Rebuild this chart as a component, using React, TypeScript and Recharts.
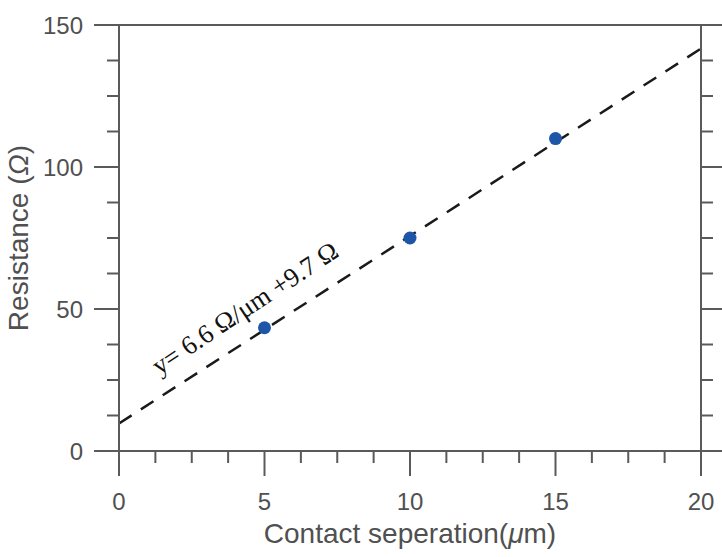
import React from "react";
import {
  ComposedChart,
  Line,
  Scatter,
  XAxis,
  YAxis,
  ReferenceDot,
} from "recharts";

// measured points
const separation = [5, 10, 15];
const resistance = [43.4, 75, 110];

// linear fit y = 6.6x + 9.7, drawn between the axis ends
const fitX = [0, 20];
const fitY = [9.7, 141.7];

const xMajor = [0, 5, 10, 15, 20];
const yMajor = [0, 50, 100, 150];
const xTicks = [0, 1.25, 2.5, 3.75, 5, 6.25, 7.5, 8.75, 10, 11.25, 12.5, 13.75, 15, 16.25, 17.5, 18.75, 20];
const yTicks = [0, 12.5, 25, 37.5, 50, 62.5, 75, 87.5, 100, 112.5, 125, 137.5, 150];

const fitLabel = "y= 6.6 Ω/μm +9.7 Ω";
const fitLabelAt = { x: 1.38, y: 26.6 };

const points = separation.map((x, i) => ({ x, y: resistance[i] }));
const fitData = fitX.map((x, i) => ({ x, y: fitY[i] }));

const AXIS = "#5a5a5a";
const TEXT = "#505050";
const FONT = "'Liberation Sans', Arial, sans-serif";
const MAJOR = 25;
const MINOR = 12;

function BottomTick({ x, y, payload }: any) {
  const major = xMajor.includes(payload.value);
  return (
    <g>
      <line x1={x} x2={x} y1={y} y2={y + (major ? MAJOR : MINOR)} stroke={AXIS} strokeWidth={2} />
      {major && (
        <text x={x} y={y + 59} textAnchor="middle" fontSize={24} fill={TEXT} fontFamily={FONT}>
          {payload.value}
        </text>
      )}
    </g>
  );
}

function TopTick({ x, y, payload }: any) {
  const major = xMajor.includes(payload.value);
  return <line x1={x} x2={x} y1={y} y2={y - (major ? MAJOR : MINOR)} stroke={AXIS} strokeWidth={2} />;
}

function LeftTick({ x, y, payload }: any) {
  const major = yMajor.includes(payload.value);
  return (
    <g>
      <line x1={x} x2={x - (major ? MAJOR : MINOR)} y1={y} y2={y} stroke={AXIS} strokeWidth={2} />
      {major && (
        <text x={x - 36} y={y} dy="0.36em" textAnchor="end" fontSize={24} fill={TEXT} fontFamily={FONT}>
          {payload.value}
        </text>
      )}
    </g>
  );
}

function RightTick({ x, y, payload }: any) {
  const major = yMajor.includes(payload.value);
  return <line x1={x} x2={x + (major ? MAJOR : MINOR)} y1={y} y2={y} stroke={AXIS} strokeWidth={2} />;
}

function XTitle({ viewBox }: any) {
  const cx = viewBox.x + viewBox.width / 2;
  return (
    <text x={cx} y={543} textAnchor="middle" fontSize={28} fill={TEXT} fontFamily={FONT}>
      Contact seperation(<tspan fontStyle="italic">μ</tspan>m)
    </text>
  );
}

function YTitle({ viewBox }: any) {
  const cy = viewBox.y + viewBox.height / 2;
  return (
    <text
      x={28}
      y={cy}
      transform={`rotate(-90, 28, ${cy})`}
      textAnchor="middle"
      fontSize={28}
      fill={TEXT}
      fontFamily={FONT}
    >
      Resistance (<tspan fontStyle="italic">Ω</tspan>)
    </text>
  );
}

function FitText({ viewBox }: any) {
  const x = viewBox.x + viewBox.width / 2;
  const y = viewBox.y + viewBox.height / 2;
  return (
    <text
      x={x}
      y={y}
      transform={`rotate(-33.5, ${x}, ${y})`}
      fontSize={26.5}
      fill="#111"
      fontFamily="'Liberation Serif', 'Times New Roman', serif"
    >
      {fitLabel}
    </text>
  );
}

export default function App() {
  return (
    <div style={{ position: "absolute", left: 0, top: 0, width: 722, height: 557, background: "#fff" }}>
      <ComposedChart width={722} height={557} margin={{ top: 0, right: 0, bottom: 0, left: 0 }}>
        <XAxis
          dataKey="x"
          type="number"
          domain={[0, 20]}
          ticks={xTicks}
          interval={0}
          height={106}
          tickSize={0}
          tickMargin={0}
          tickLine={false}
          axisLine={{ stroke: AXIS, strokeWidth: 2 }}
          tick={<BottomTick />}
          label={<XTitle />}
          allowDataOverflow
        />
        <XAxis
          xAxisId="top"
          orientation="top"
          type="number"
          domain={[0, 20]}
          ticks={xTicks}
          interval={0}
          height={25}
          tickSize={0}
          tickMargin={0}
          tickLine={false}
          axisLine={{ stroke: AXIS, strokeWidth: 2 }}
          tick={<TopTick />}
          allowDataOverflow
        />
        <YAxis
          type="number"
          domain={[0, 150]}
          ticks={yTicks}
          interval={0}
          width={119}
          tickSize={0}
          tickMargin={0}
          tickLine={false}
          axisLine={{ stroke: AXIS, strokeWidth: 2 }}
          tick={<LeftTick />}
          label={<YTitle />}
          allowDataOverflow
        />
        <YAxis
          yAxisId="right"
          orientation="right"
          type="number"
          domain={[0, 150]}
          ticks={yTicks}
          interval={0}
          width={21}
          tickSize={0}
          tickMargin={0}
          tickLine={false}
          axisLine={{ stroke: AXIS, strokeWidth: 2 }}
          tick={<RightTick />}
          allowDataOverflow
        />
        <Line
          data={fitData}
          dataKey="y"
          type="linear"
          stroke="#1a1a1a"
          strokeWidth={2.5}
          strokeDasharray="15 11"
          dot={false}
          activeDot={false}
          isAnimationActive={false}
        />
        <Scatter data={points} dataKey="y" fill="#1d56a8" shape={(p: any) => <circle cx={p.cx} cy={p.cy} r={6.5} fill="#1d56a8" />} isAnimationActive={false} />
        <ReferenceDot x={fitLabelAt.x} y={fitLabelAt.y} r={1} fill="none" stroke="none" label={<FitText />} />
      </ComposedChart>
    </div>
  );
}
